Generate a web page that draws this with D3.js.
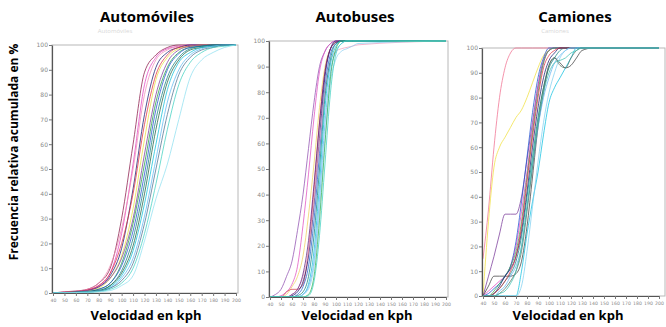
<!DOCTYPE html>
<html>
<head>
<meta charset="utf-8">
<script src="https://cdn.jsdelivr.net/npm/d3@7"></script>
<style>
  body { margin: 0; background: #fff; }
  svg { display: block; }
  text { font-family: "Open Sans", "DejaVu Sans", sans-serif; }
</style>
</head>
<body>
<svg id="chart" width="666" height="327"></svg>
<script>
// tick labels shared by the three panels
const speedTicks = [40, 50, 60, 70, 80, 90, 100, 110, 120, 130, 140, 150, 160, 170, 180, 190, 200];
const pctTicks = [0, 10, 20, 30, 40, 50, 60, 70, 80, 90, 100];

// Automóviles: cumulative % at each speed (kph)
const autoSpeeds = [40, 50, 60, 70, 80, 90, 100, 110, 120, 130, 140, 150, 160, 170, 180, 190, 200];
const autoCurves = [
  [0, 0.5, 0.8, 1.5, 4, 10, 30, 60, 89, 96, 99, 100, 100, 100, 100, 100, 100],
  [0, 0.3, 0.6, 1.2, 3, 8, 24, 52, 84, 95, 98.5, 99.5, 100, 100, 100, 100, 100],
  [0, 0.4, 0.7, 1.5, 4, 11, 26, 50, 80, 94, 98, 99.5, 100, 100, 100, 100, 100],
  [0, 0.2, 0.5, 1, 2.5, 7, 18, 42, 72, 91, 97, 99, 100, 100, 100, 100, 100],
  [0, 0.3, 0.6, 1.2, 3, 8, 20, 40, 68, 88, 96, 99, 99.5, 100, 100, 100, 100],
  [0, 0.2, 0.4, 0.8, 2, 6, 15, 34, 62, 86, 95, 98.5, 99.5, 100, 100, 100, 100],
  [0, 0.2, 0.5, 1, 2.5, 6, 14, 30, 56, 80, 93, 98, 99.5, 100, 100, 100, 100],
  [0, 0.1, 0.3, 0.6, 1.5, 4, 12, 28, 52, 77, 91, 97, 99, 99.5, 100, 100, 100],
  [0, 0.1, 0.3, 0.6, 1.5, 4, 11, 25, 48, 74, 90, 96.5, 99, 99.5, 100, 100, 100],
  [0, 0.1, 0.2, 0.5, 1, 3, 9, 22, 44, 70, 87, 95, 98.5, 99.5, 100, 100, 100],
  [0, 0.1, 0.2, 0.5, 1, 3, 8, 19, 40, 66, 85, 94, 98, 99, 99.5, 100, 100],
  [0, 0.1, 0.2, 0.4, 0.8, 2.5, 7, 17, 36, 60, 82, 93, 97, 99, 99.5, 100, 100],
  [0, 0.1, 0.2, 0.4, 0.8, 2, 6, 14, 31, 54, 77, 90, 96, 98.5, 99.5, 100, 100],
  [0, 0.1, 0.2, 0.4, 0.8, 2, 5, 12, 28, 50, 72, 88, 95, 98, 99, 100, 100],
  [0, 0.1, 0.2, 0.3, 0.6, 1.5, 4, 10, 24, 44, 66, 84, 93, 97, 99, 99.5, 100],
  [0, 0.1, 0.2, 0.3, 0.5, 1, 3, 7, 21, 38, 52, 70, 87, 94, 97, 99, 100]
];

// Autobuses
const busSpeeds = [40, 45, 50, 55, 60, 65, 70, 75, 80, 85, 90, 95, 100, 105, 110, 115, 120, 200];
const busCurves = [
  [0, 1, 3, 8, 14, 26, 40, 58, 76, 90, 96, 99, 100, 100, 100, 100, 100, 100],
  [0, 0, 0.5, 2, 5, 12, 28, 48, 70, 88, 96, 99, 100, 100, 100, 100, 100, 100],
  [0, 0, 0, 1, 4, 8, 16, 32, 52, 74, 90, 97, 99.5, 100, 100, 100, 100, 100],
  [0, 0, 0, 2, 3, 3, 5, 18, 42, 68, 88, 97, 99.5, 100, 100, 100, 100, 100],
  [0, 0, 0, 0, 0.5, 2, 6, 16, 36, 62, 86, 97, 100, 100, 100, 100, 100, 100],
  [0, 0, 0, 0, 0, 1, 4, 12, 30, 56, 82, 95, 99, 100, 100, 100, 100, 100],
  [0, 0, 0, 0, 1, 3, 8, 18, 38, 60, 80, 92, 96, 97, 97.5, 98, 98.5, 100],
  [0, 0, 0, 0, 1, 3, 9, 22, 44, 68, 88, 97, 99.5, 100, 100, 100, 100, 100],
  [0, 0, 0, 0, 0, 0.5, 2, 8, 24, 50, 78, 93, 99, 100, 100, 100, 100, 100],
  [0, 0, 0, 0, 0, 0, 1, 5, 18, 44, 74, 91, 98, 100, 100, 100, 100, 100],
  [0, 0, 0, 0, 0, 0, 1, 4, 14, 38, 68, 88, 96, 99, 100, 100, 100, 100],
  [0, 0, 0, 0, 0, 0, 1, 3, 12, 34, 62, 84, 93, 96, 97, 98, 99, 100],
  [0, 0, 0, 0, 0, 0, 0, 1, 8, 30, 60, 86, 97, 100, 100, 100, 100, 100],
  [0, 0, 0, 0, 0, 0, 0, 0.5, 6, 24, 52, 80, 95, 99, 100, 100, 100, 100]
];

// Camiones
const truckSpeeds = [40, 45, 50, 55, 60, 65, 70, 75, 80, 85, 90, 95, 100, 105, 110, 115, 120, 125, 130, 140, 200];
const truckCurves = [
  [15, 35, 60, 80, 92, 98, 100, 100, 100, 100, 100, 100, 100, 100, 100, 100, 100, 100, 100, 100, 100],
  [0, 30, 52, 60, 64, 68, 72, 75, 80, 86, 92, 97, 99, 100, 100, 100, 100, 100, 100, 100, 100],
  [0, 8, 16, 25, 33, 33, 33, 40, 55, 70, 85, 95, 99, 100, 100, 100, 100, 100, 100, 100, 100],
  [0, 4, 8, 8, 8, 8, 9, 14, 28, 48, 68, 82, 93, 96, 94, 92, 93, 96, 99, 100, 100],
  [0, 2, 4, 6, 8, 12, 20, 34, 50, 68, 84, 94, 99, 100, 100, 100, 100, 100, 100, 100, 100],
  [0, 1, 3, 5, 8, 12, 22, 38, 56, 74, 88, 96, 100, 100, 100, 100, 100, 100, 100, 100, 100],
  [0, 0, 2, 5, 8, 12, 18, 30, 48, 66, 82, 94, 99, 100, 100, 100, 100, 100, 100, 100, 100],
  [0, 0, 1, 4, 8, 11, 16, 26, 42, 60, 76, 88, 95, 98, 100, 100, 100, 100, 100, 100, 100],
  [0, 0, 1, 3, 6, 9, 14, 24, 40, 56, 72, 84, 92, 96, 99, 100, 100, 100, 100, 100, 100],
  [0, 0, 1, 3, 6, 10, 16, 28, 46, 64, 80, 92, 97, 99, 100, 100, 100, 100, 100, 100, 100],
  [0, 0, 0, 2, 4, 8, 12, 20, 36, 52, 68, 80, 88, 94, 97, 99, 100, 100, 100, 100, 100],
  [0, 0, 0, 0, 0, 0, 0, 10, 25, 38, 50, 65, 78, 84, 88, 92, 96, 100, 100, 100, 100],
  [0, 0, 0, 0, 0, 0, 0, 4, 18, 36, 54, 70, 82, 90, 96, 99, 100, 100, 100, 100, 100],
  [0, 0, 0, 1, 3, 6, 10, 18, 34, 52, 70, 84, 93, 96, 93, 92, 96, 99, 100, 100, 100],
  [0, 0, 0, 1, 2, 5, 10, 20, 36, 54, 70, 82, 90, 94, 95, 96, 98, 99, 100, 100, 100]
];

// line colours (old spreadsheet palette, washed out like the scan)
const autoColors = ['#8b1a4a', '#e040c0', '#f08cb4', '#1a1a70', '#e03040', '#e8e040', '#7a3a9a', '#20a040',
  '#2050d0', '#108080', '#206040', '#10c0d8', '#60b8f0', '#507090', '#40d0c0', '#90e0f0'];
const busColors = ['#9050b0', '#e050c0', '#f0d060', '#d04050', '#1a1a70', '#2060d0', '#f0a0c0', '#602080',
  '#108080', '#10c0d8', '#60b0f0', '#90d0f0', '#30b050', '#40d0c0'];
const truckColors = ['#f07090', '#f0e040', '#7a3a9a', '#404040', '#e040c0', '#2050d0', '#30b050', '#1a1a70',
  '#108080', '#e03040', '#60b0f0', '#10c0e0', '#80d0f0', '#507060', '#40c0b0'];

const panels = [
  { title: 'Automóviles', speeds: autoSpeeds, curves: autoCurves, colors: autoColors,
    left: 52, right: 238, top: 45, bottom: 293, xEnd: 236, cx: 147, labelX: 146, faint: [115, 33] },
  { title: 'Autobuses', speeds: busSpeeds, curves: busCurves, colors: busColors,
    left: 269, right: 448, top: 41, bottom: 297, xEnd: 446, cx: 355, labelX: 357, faint: null },
  { title: 'Camiones', speeds: truckSpeeds, curves: truckCurves, colors: truckColors,
    left: 482, right: 665, top: 48, bottom: 296, xEnd: 659, cx: 575, labelX: 568, faint: [555, 33] }
];

const svg = d3.select('#chart');

svg.append('rect')
  .attr('width', 666)
  .attr('height', 327)
  .attr('fill', '#fff');

panels.forEach(p => {
  const g = svg.append('g');

  const x = d3.scaleLinear().domain([40, 200]).range([p.left + 1, p.xEnd]);
  const y = d3.scaleLinear().domain([0, 100]).range([p.bottom, p.top]);

  // plot frame
  g.append('rect')
    .attr('x', p.left)
    .attr('y', p.top)
    .attr('width', p.right - p.left)
    .attr('height', p.bottom - p.top)
    .attr('fill', '#fff')
    .attr('stroke', '#b8b8b8')
    .attr('stroke-width', 1);

  // curves
  const line = d3.line()
    .x(d => x(d[0]))
    .y(d => y(d[1]))
    .curve(d3.curveMonotoneX);

  g.selectAll('path.curve')
    .data(p.curves)
    .enter()
    .append('path')
    .classed('curve', true)
    .attr('fill', 'none')
    .attr('stroke', (d, i) => p.colors[i % p.colors.length])
    .attr('stroke-width', 1)
    .attr('stroke-opacity', 0.75)
    .attr('d', d => line(d.map((v, i) => [p.speeds[i], v])));

  // axes
  const yAxis = g.append('g')
    .attr('transform', `translate(${p.left},0)`)
    .call(d3.axisLeft(y).tickValues(pctTicks).tickSize(3).tickSizeOuter(0));
  const xAxis = g.append('g')
    .attr('transform', `translate(0,${p.bottom})`)
    .call(d3.axisBottom(x).tickValues(speedTicks).tickSize(3).tickSizeOuter(0));

  [yAxis, xAxis].forEach(a => {
    a.select('.domain').attr('stroke', '#555').attr('stroke-width', 1.2);
    a.selectAll('.tick line').attr('stroke', '#777');
    a.selectAll('.tick text')
      .attr('fill', '#8a8a8a')
      .style('font-family', '"DejaVu Sans", sans-serif');
  });
  yAxis.selectAll('.tick text').attr('x', -4).style('font-size', '6px');
  xAxis.selectAll('.tick text').attr('y', 6).style('font-size', '4.6px');

  // titles
  g.append('text')
    .attr('x', p.cx)
    .attr('y', 22)
    .attr('text-anchor', 'middle')
    .attr('font-weight', 'bold')
    .style('font-size', '15px')
    .text(p.title);

  g.append('text')
    .attr('x', p.labelX)
    .attr('y', 320)
    .attr('text-anchor', 'middle')
    .attr('font-weight', 'bold')
    .style('font-size', '13px')
    .text('Velocidad en kph');

  if (p.faint) {
    g.append('text')
      .attr('x', p.faint[0])
      .attr('y', p.faint[1])
      .attr('text-anchor', 'middle')
      .attr('fill', '#d8d8d8')
      .style('font-size', '6px')
      .text(p.title);
  }
});

svg.append('text')
  .attr('transform', 'translate(18,152) rotate(-90)')
  .attr('text-anchor', 'middle')
  .attr('font-weight', 'bold')
  .style('font-size', '12px')
  .text('Frecuencia relativa acumulada en %');
</script>
</body>
</html>
